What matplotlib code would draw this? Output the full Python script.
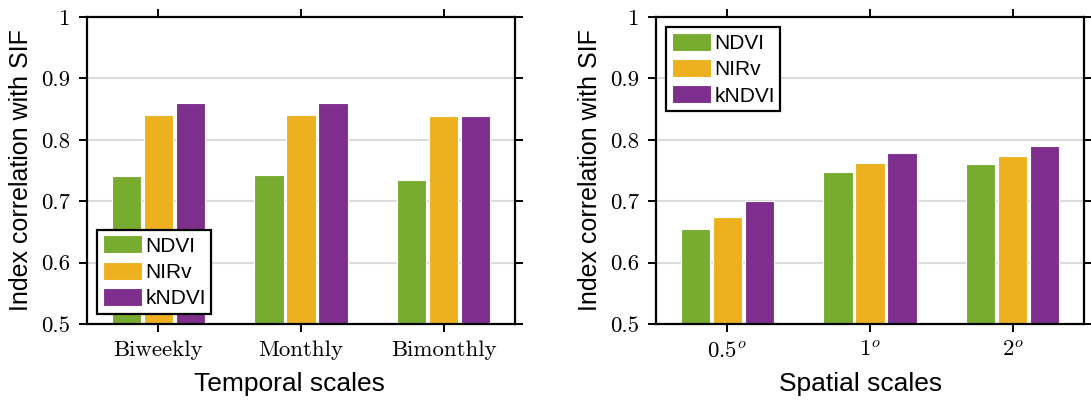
import numpy as np
import matplotlib
matplotlib.use('Agg')
from matplotlib import pyplot as plt

plt.rcParams['font.family'] = ['Liberation Sans', 'DejaVu Sans']
plt.rcParams['mathtext.fontset'] = 'cm'
plt.rcParams['axes.unicode_minus'] = False

# data
indices = ['NDVI', 'NIRv', 'kNDVI']
colors = ['#77AC30', '#EDB120', '#7E2F8E']

temporal_labels = ['Biweekly', 'Monthly', 'Bimonthly']
temporal_ndvi = [0.741, 0.742, 0.734]
temporal_nirv = [0.841, 0.841, 0.839]
temporal_kndvi = [0.860, 0.860, 0.839]

spatial_labels = [r'$0.5^o$', r'$1^o$', r'$2^o$']
spatial_ndvi = [0.655, 0.748, 0.760]
spatial_nirv = [0.675, 0.763, 0.773]
spatial_kndvi = [0.700, 0.779, 0.790]

yticks = [0.5, 0.6, 0.7, 0.8, 0.9, 1.0]
ytick_labels = ['0.5', '0.6', '0.7', '0.8', '0.9', '1']

fig = plt.figure(figsize=(10.91, 4.0), dpi=100)
ax1 = fig.add_axes([0.0797, 0.19, 0.3923, 0.7675])
ax2 = fig.add_axes([0.6013, 0.19, 0.3923, 0.7675])


def draw(ax, labels, series, xlabel, legend_loc, xlab_pos):
    x = np.arange(1, len(labels) + 1)
    width = 0.205
    step = 0.224
    for i, (vals, name) in enumerate(zip(series, indices)):
        ax.bar(x + (i - 1) * step, vals, width, color=colors[i],
               edgecolor='white', linewidth=0.8, label=name, zorder=2)
    ax.set_xlim(0.5, 3.5)
    ax.set_ylim(0.5, 1.0)
    ax.set_xticks(x)
    ax.set_xticklabels(labels, fontfamily='cmr10', fontsize=16.5)
    ax.set_yticks(yticks)
    ax.set_yticklabels(ytick_labels, fontfamily='cmr10', fontsize=16.5)
    ax.yaxis.grid(True, color='#dcdcdc', linewidth=1.5, zorder=0)
    ax.set_axisbelow(True)
    ax.tick_params(direction='out', length=6, width=1.4, top=True, right=True,
                   pad=6)
    for s in ax.spines.values():
        s.set_linewidth(1.6)
    ax.set_ylabel('Index correlation with SIF', fontsize=18, labelpad=6)
    ax.set_xlabel(xlabel, fontsize=19, labelpad=8)
    ax.xaxis.set_label_coords(xlab_pos, -0.155)
    leg = ax.legend(loc=legend_loc, fontsize=15, handlelength=1.9,
                    handleheight=0.95, handletextpad=0.15, labelspacing=0.3,
                    borderpad=0.25, borderaxespad=0.5, fancybox=False,
                    framealpha=1, edgecolor='black')
    leg.get_frame().set_linewidth(1.6)


draw(ax1, temporal_labels, [temporal_ndvi, temporal_nirv, temporal_kndvi],
     'Temporal scales', 'lower left', 0.474)
draw(ax2, spatial_labels, [spatial_ndvi, spatial_nirv, spatial_kndvi],
     'Spatial scales', 'upper left', 0.479)

fig.savefig('out.png', dpi=100)
